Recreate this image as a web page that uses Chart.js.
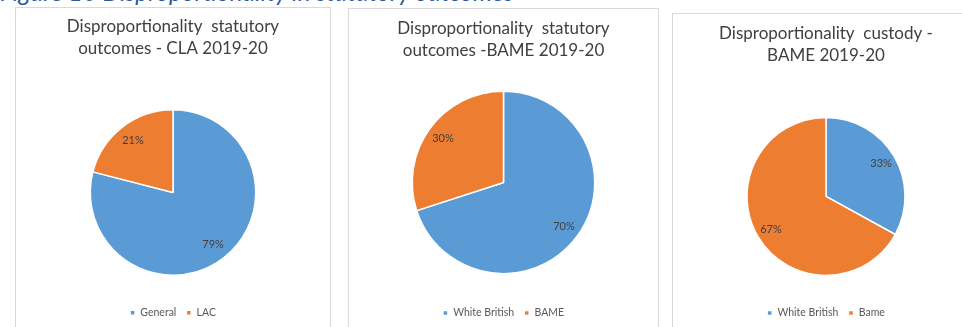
<!DOCTYPE html>
<html>
<head>
<meta charset="utf-8">
<script src="https://cdn.jsdelivr.net/npm/chart.js@4"></script>
<style>
  html, body { margin: 0; padding: 0; background: #ffffff; }
  body { width: 962px; height: 327px; overflow: hidden; position: relative; font-family: Lato, sans-serif; }
  .caption {
    position: absolute; left: 0; top: -23px; white-space: nowrap;
    font: italic 24.5px/1.2 Lato, sans-serif; color: #2E5A9C;
  }
  .panel { position: absolute; box-sizing: border-box; border: 1px solid #D9D9D9; background: #fff; overflow: hidden; }
  .panel canvas { display: block; }
</style>
</head>
<body>
<div class="caption">Figure 10 Disproportionality in statutory outcomes</div>

<div class="panel" style="left:15px; top:7px; width:316px; height:340px;"><canvas id="chartCla" width="314" height="330"></canvas></div>
<div class="panel" style="left:348px; top:8px; width:311px; height:340px;"><canvas id="chartBame" width="309" height="330"></canvas></div>
<div class="panel" style="left:672px; top:13px; width:308px; height:340px;"><canvas id="chartCustody" width="306" height="325"></canvas></div>

<script>
// Looked-after children share of statutory outcomes
const claTitle = ['Disproportionality  statutory', 'outcomes - CLA 2019-20'];
const claGroups = ['General', 'LAC'];
const claShares = [79, 21];

// Ethnicity share of statutory outcomes
const bameTitle = ['Disproportionality  statutory', 'outcomes -BAME 2019-20'];
const bameGroups = ['White British', 'BAME'];
const bameShares = [70, 30];

// Ethnicity share of custody outcomes
const custodyTitle = ['Disproportionality  custody -', 'BAME 2019-20'];
const custodyGroups = ['White British', 'Bame'];
const custodyShares = [33, 67];

const BLUE = '#5B9BD5';
const ORANGE = '#ED7D31';

// Percentage labels placed inside each slice
const sliceLabels = {
  id: 'sliceLabels',
  afterDatasetsDraw(chart, args, opts) {
    const ctx = chart.ctx;
    const meta = chart.getDatasetMeta(0);
    const values = chart.data.datasets[0].data;
    ctx.save();
    ctx.font = '11px Lato, sans-serif';
    ctx.fillStyle = '#404040';
    ctx.textAlign = 'center';
    ctx.textBaseline = 'middle';
    meta.data.forEach((arc, i) => {
      const p = arc.getProps(['x', 'y', 'startAngle', 'endAngle', 'outerRadius'], true);
      const mid = (p.startAngle + p.endAngle) / 2;
      const r = p.outerRadius * (opts.distance || 0.8);
      ctx.fillText(values[i] + '%', p.x + Math.cos(mid) * r, p.y + Math.sin(mid) * r);
    });
    ctx.restore();
  }
};

function makePie(id, title, labels, values, cfg) {
  return new Chart(document.getElementById(id), {
    type: 'pie',
    data: {
      labels: labels,
      datasets: [{
        data: values,
        backgroundColor: [BLUE, ORANGE],
        borderColor: '#ffffff',
        borderWidth: 1.5,
        radius: cfg.radius
      }]
    },
    options: {
      responsive: false,
      animation: false,
      devicePixelRatio: 1,
      layout: { padding: { top: 0, left: 0, right: 0, bottom: cfg.bottom } },
      plugins: {
        title: {
          display: true,
          text: title,
          color: '#404040',
          font: { family: 'Lato, sans-serif', size: 17, weight: 'normal', lineHeight: 1.276 },
          padding: { top: cfg.titleTop, bottom: cfg.titleBottom }
        },
        legend: {
          position: 'bottom',
          labels: {
            boxWidth: 5,
            boxHeight: 5,
            padding: 10,
            color: '#595959',
            font: { family: 'Lato, sans-serif', size: 10.5 }
          }
        },
        tooltip: { enabled: false },
        sliceLabels: { distance: cfg.labelDistance }
      }
    },
    plugins: [sliceLabels]
  });
}

makePie('chartCla', claTitle, claGroups, claShares,
  { radius: 82.7, bottom: 10, titleTop: 7.85, titleBottom: 28.15, labelDistance: 0.79 });
makePie('chartBame', bameTitle, bameGroups, bameShares,
  { radius: 91.2, bottom: 10.7, titleTop: 9.15, titleBottom: 5.55, labelDistance: 0.82 });
makePie('chartCustody', custodyTitle, custodyGroups, custodyShares,
  { radius: 79, bottom: 10.7, titleTop: 9.15, titleBottom: 28.55, labelDistance: 0.81 });
</script>
</body>
</html>
